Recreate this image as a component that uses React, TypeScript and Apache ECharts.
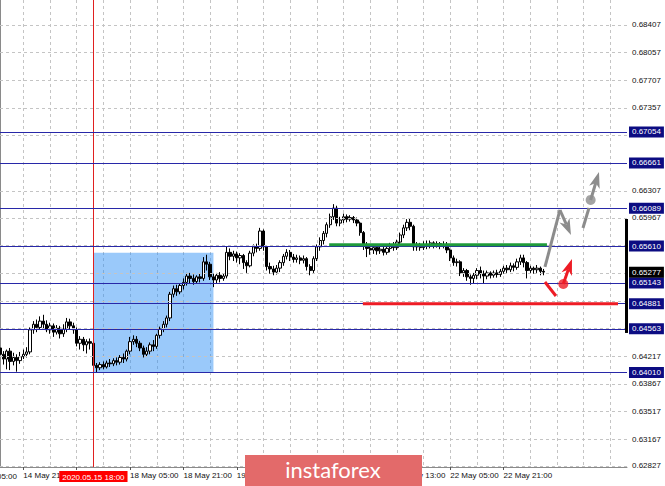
import React, { useEffect, useRef } from "react";
import * as echarts from "echarts";

// ---------- data ----------
const SLOT_COUNT = 189; // hourly slots incl. chart shift area
const START_UTC = Date.UTC(2020, 4, 14, 14); // first visible H1 bar: 14 May 14:00
const MONTHS = ["Jan", "Feb", "Mar", "Apr", "May", "Jun", "Jul", "Aug", "Sep", "Oct", "Nov", "Dec"];

// H1 candles: [open, close, low, high]
const candles: number[][] = [
  [0.6432, 0.6424, 0.6419, 0.6436], [0.6424, 0.6418, 0.6411, 0.6428], [0.6418, 0.6428, 0.6405, 0.643], [0.6428, 0.6415, 0.6404, 0.6432],
  [0.6415, 0.642, 0.641, 0.6426], [0.642, 0.6416, 0.6402, 0.6424], [0.6416, 0.6421, 0.6412, 0.6427], [0.6421, 0.6424, 0.6418, 0.643],
  [0.6424, 0.6427, 0.642, 0.6433], [0.6427, 0.6455, 0.6424, 0.6458], [0.6455, 0.6462, 0.645, 0.6466], [0.6462, 0.6458, 0.6452, 0.6468],
  [0.6458, 0.6466, 0.6455, 0.6472], [0.6466, 0.6462, 0.6456, 0.6474], [0.6462, 0.6455, 0.6452, 0.6467], [0.6455, 0.646, 0.645, 0.6464],
  [0.646, 0.6452, 0.6446, 0.6463], [0.6452, 0.6457, 0.6449, 0.6461], [0.6457, 0.645, 0.6444, 0.646], [0.645, 0.6456, 0.6446, 0.6462],
  [0.6456, 0.6465, 0.6452, 0.647], [0.6465, 0.646, 0.6455, 0.6469], [0.646, 0.6455, 0.645, 0.6464], [0.6455, 0.6438, 0.6434, 0.6458],
  [0.6438, 0.6443, 0.643, 0.6447], [0.6443, 0.6436, 0.6428, 0.6446], [0.6436, 0.644, 0.6425, 0.6443], [0.644, 0.6438, 0.643, 0.6444],
  [0.6438, 0.641, 0.6402, 0.6442], [0.641, 0.6407, 0.6401, 0.6413], [0.6407, 0.6411, 0.6404, 0.6414], [0.6411, 0.6408, 0.6405, 0.6415],
  [0.6408, 0.6413, 0.6406, 0.6416], [0.6413, 0.6412, 0.6408, 0.6418], [0.6412, 0.6416, 0.6409, 0.6419], [0.6416, 0.6414, 0.641, 0.642],
  [0.6414, 0.642, 0.6411, 0.6423], [0.642, 0.6418, 0.6413, 0.6425], [0.6418, 0.6428, 0.6415, 0.643], [0.6428, 0.644, 0.6424, 0.6446],
  [0.644, 0.6443, 0.6436, 0.6448], [0.6443, 0.6438, 0.6433, 0.6447], [0.6438, 0.6432, 0.6428, 0.6441], [0.6432, 0.6424, 0.642, 0.6435],
  [0.6424, 0.6428, 0.6421, 0.6433], [0.6428, 0.6436, 0.6424, 0.6439], [0.6436, 0.6434, 0.6428, 0.6442], [0.6434, 0.6448, 0.6431, 0.645],
  [0.6448, 0.6456, 0.6444, 0.6459], [0.6456, 0.6462, 0.6452, 0.6466], [0.6462, 0.647, 0.6458, 0.6473], [0.647, 0.65, 0.6466, 0.6503],
  [0.65, 0.6507, 0.6496, 0.6511], [0.6507, 0.6503, 0.6498, 0.6512], [0.6503, 0.6511, 0.65, 0.6514], [0.6511, 0.6515, 0.6506, 0.652],
  [0.6515, 0.6523, 0.6511, 0.6527], [0.6523, 0.652, 0.6514, 0.6527], [0.652, 0.6516, 0.6512, 0.6525], [0.6516, 0.6522, 0.6513, 0.6524],
  [0.6522, 0.652, 0.6515, 0.6526], [0.652, 0.6541, 0.6517, 0.6547], [0.6541, 0.6538, 0.653, 0.655], [0.6538, 0.6522, 0.6518, 0.6541],
  [0.6522, 0.6518, 0.6509, 0.6526], [0.6518, 0.6524, 0.6514, 0.6527], [0.6524, 0.652, 0.6515, 0.6528], [0.652, 0.6523, 0.6517, 0.6526],
  [0.6523, 0.6553, 0.652, 0.656], [0.6553, 0.6548, 0.6543, 0.6558], [0.6548, 0.6551, 0.6542, 0.6555], [0.6551, 0.6546, 0.654, 0.6554],
  [0.6546, 0.6549, 0.6538, 0.6552], [0.6549, 0.654, 0.6532, 0.6551], [0.654, 0.6536, 0.6527, 0.6543], [0.6536, 0.6552, 0.6534, 0.6555],
  [0.6552, 0.656, 0.6548, 0.6563], [0.656, 0.6558, 0.6553, 0.6564], [0.6558, 0.658, 0.6555, 0.6584], [0.658, 0.656, 0.6555, 0.6582],
  [0.656, 0.6535, 0.653, 0.6562], [0.6535, 0.6532, 0.6526, 0.654], [0.6532, 0.6528, 0.6524, 0.6536], [0.6528, 0.6533, 0.6525, 0.6537],
  [0.6533, 0.654, 0.6528, 0.6543], [0.654, 0.6548, 0.6536, 0.6551], [0.6548, 0.6553, 0.6544, 0.6557], [0.6553, 0.6547, 0.6542, 0.6556],
  [0.6547, 0.6544, 0.654, 0.6551], [0.6544, 0.6546, 0.654, 0.655], [0.6546, 0.6543, 0.6538, 0.6549], [0.6543, 0.6545, 0.6539, 0.6549],
  [0.6545, 0.6535, 0.653, 0.6547], [0.6535, 0.653, 0.6524, 0.6538], [0.653, 0.6545, 0.6527, 0.6548], [0.6545, 0.656, 0.6542, 0.6563],
  [0.656, 0.6568, 0.6555, 0.6572], [0.6568, 0.6577, 0.6563, 0.658], [0.6577, 0.6588, 0.6572, 0.6591], [0.6588, 0.6598, 0.6584, 0.6602],
  [0.6598, 0.6609, 0.6594, 0.6614], [0.6609, 0.659, 0.6586, 0.6612], [0.659, 0.6594, 0.6586, 0.6598], [0.6594, 0.6598, 0.659, 0.6602],
  [0.6598, 0.6595, 0.6591, 0.6601], [0.6595, 0.6597, 0.6592, 0.66], [0.6597, 0.6594, 0.659, 0.6599], [0.6594, 0.659, 0.6586, 0.6597],
  [0.659, 0.6578, 0.6574, 0.6592], [0.6578, 0.6562, 0.6556, 0.658], [0.6562, 0.6558, 0.6547, 0.6566], [0.6558, 0.6556, 0.655, 0.6562],
  [0.6556, 0.6559, 0.6551, 0.6563], [0.6559, 0.6555, 0.655, 0.6561], [0.6555, 0.6557, 0.6551, 0.6561], [0.6557, 0.6553, 0.6549, 0.656],
  [0.6553, 0.6558, 0.655, 0.6562], [0.6558, 0.6561, 0.6553, 0.6565], [0.6561, 0.6559, 0.6555, 0.6566], [0.6559, 0.6566, 0.6556, 0.6569],
  [0.6566, 0.6575, 0.6562, 0.6578], [0.6575, 0.6584, 0.6571, 0.6588], [0.6584, 0.6591, 0.658, 0.6595], [0.6591, 0.6586, 0.6581, 0.6596],
  [0.6586, 0.656, 0.6555, 0.6588], [0.656, 0.6562, 0.6555, 0.6566], [0.6562, 0.6559, 0.6555, 0.6565], [0.6559, 0.6563, 0.6556, 0.6567],
  [0.6563, 0.6561, 0.6557, 0.6568], [0.6561, 0.6565, 0.6558, 0.6568], [0.6565, 0.6562, 0.6558, 0.6567], [0.6562, 0.6564, 0.6559, 0.6567],
  [0.6564, 0.6561, 0.6557, 0.6566], [0.6561, 0.6563, 0.6558, 0.6567], [0.6563, 0.6556, 0.6552, 0.6566], [0.6556, 0.6546, 0.6542, 0.6558],
  [0.6546, 0.654, 0.6536, 0.6549], [0.654, 0.6541, 0.6535, 0.6545], [0.6541, 0.6527, 0.6523, 0.6543], [0.6527, 0.653, 0.6522, 0.6533],
  [0.653, 0.6522, 0.6517, 0.6532], [0.6522, 0.652, 0.6512, 0.6525], [0.652, 0.6524, 0.6513, 0.6527], [0.6524, 0.653, 0.6519, 0.6533],
  [0.653, 0.6526, 0.652, 0.6535], [0.6526, 0.6523, 0.6513, 0.653], [0.6523, 0.6527, 0.6519, 0.653], [0.6527, 0.6524, 0.652, 0.6529],
  [0.6524, 0.6527, 0.6521, 0.653], [0.6527, 0.6525, 0.6521, 0.6531], [0.6525, 0.6529, 0.6522, 0.6532], [0.6529, 0.6533, 0.6526, 0.6536],
  [0.6533, 0.6531, 0.6527, 0.6537], [0.6531, 0.6536, 0.6528, 0.654], [0.6536, 0.6534, 0.6529, 0.6539], [0.6534, 0.6541, 0.6531, 0.6545],
  [0.6541, 0.6546, 0.6537, 0.655], [0.6546, 0.654, 0.6534, 0.655], [0.654, 0.653, 0.652, 0.6542], [0.653, 0.6533, 0.6527, 0.6536],
  [0.6533, 0.6531, 0.6526, 0.6535], [0.6531, 0.6533, 0.6527, 0.6537], [0.6533, 0.6529, 0.6524, 0.6535], [0.6529, 0.6528, 0.6524, 0.6532],
];

// price scale grid (right axis)
const gridPrices = [0.68407, 0.68057, 0.67707, 0.67357, 0.67007, 0.66657, 0.66307, 0.65967, 0.65617, 0.65267, 0.64917, 0.64567, 0.64217, 0.63867, 0.63517, 0.63167, 0.62827];
const gridLabelHidden = [0.67007, 0.66657, 0.65617, 0.65267, 0.64917, 0.64567];
const yRange = [0.62814, 0.68723];

// horizontal level lines (navy) and current price
const levelPrices = [0.67054, 0.66661, 0.66089, 0.6561, 0.65143, 0.64881, 0.64563, 0.6401];
const currentPrice = 0.65277;
const rangeBar = [0.65952, 0.6451];

// annotations in (bar index, price)
const markerBar = 28;
const markerText = "2020.05.15 18:00";
const boxCorners = [[28, 0.65526], [64, 0.6401]];
const greenLine = [[98.7, 0.65625], [164, 0.65625]];
const redLine = [[108.8, 0.64881], [185.3, 0.64881]];
const greyUp1 = [[163.4, 0.65345], [167.9, 0.66066]];
const greyDownArrow = [[167.9, 0.66066], [171.2, 0.6575]];
const greyStem2 = [[174.8, 0.65838], [176.6, 0.66091]];
const greyUpArrow = [[177.1, 0.66193], [179.6, 0.66547]];
const redStem = [[163.4, 0.65155], [166.7, 0.64978]];
const redUpArrow = [[168.9, 0.6513], [171.5, 0.65446]];
const greyDot = [177.1, 0.66193];
const redDot = [168.9, 0.6513];

const FONT = "Liberation Sans";
const NAVY = "#0c0c82";
const NAVY_LINE = "#2828a8";
const GREY_ARROW = "#8c8c8c";
const RED = "#ee1c25";
const GREEN = "#1f9b3b";
const ANN_COLORS = [GREY_ARROW, RED, GREEN];

function buildTimes(n: number): Date[] {
  const out: Date[] = [];
  let t = START_UTC;
  while (out.length < n) {
    const d = new Date(t);
    const day = d.getUTCDay();
    if (day !== 0 && day !== 6) out.push(d);
    t += 3600000;
  }
  return out;
}
const pad = (v: number) => (v < 10 ? "0" + v : "" + v);
const times = buildTimes(SLOT_COUNT);
const categories = times.map((d) => `${d.getUTCDate()} ${MONTHS[d.getUTCMonth()]} ${pad(d.getUTCHours())}:00`);

const isTimeTick = (idx: number) => idx % 16 === 7 && idx < candles.length;
// labels hidden under the red time marker and the watermark banner
const hiddenTimeLabels = [23, 87, 103];
const showTimeLabel = (idx: number) => isTimeTick(idx) && hiddenTimeLabels.indexOf(idx) < 0;

// segment rows: [x1, p1, x2, p2, arrowHead, colourIndex]
const seg = (pts: number[][], head: number, colour: number) => [pts[0][0], pts[0][1], pts[1][0], pts[1][1], head, colour];
const annotationRows = [
  seg(greenLine, 0, 2),
  seg(redLine, 0, 1),
  seg(greyUp1, 0, 0),
  seg(greyDownArrow, 1, 0),
  seg(greyStem2, 0, 0),
  seg(greyUpArrow, 1, 0),
  seg(redStem, 0, 1),
  seg(redUpArrow, 1, 1),
];

function renderSegment(params: any, api: any) {
  const a = api.coord([api.value(0), api.value(1)]);
  const b = api.coord([api.value(2), api.value(3)]);
  const head = api.value(4) === 1;
  const color = ANN_COLORS[api.value(5)];
  const children: any[] = [];
  let end = b;
  if (head) {
    const dx = b[0] - a[0];
    const dy = b[1] - a[1];
    const len = Math.hypot(dx, dy) || 1;
    const ux = dx / len;
    const uy = dy / len;
    const px = -uy;
    const py = ux;
    const L = 16;
    const W = 5.5;
    const base = [b[0] - ux * L, b[1] - uy * L];
    const notch = [b[0] - ux * L * 0.72, b[1] - uy * L * 0.72];
    children.push({
      type: "polygon",
      shape: {
        points: [
          [b[0], b[1]],
          [base[0] + px * W, base[1] + py * W],
          notch,
          [base[0] - px * W, base[1] - py * W],
        ],
      },
      style: { fill: color },
    });
    end = notch;
  }
  children.unshift({
    type: "line",
    shape: { x1: a[0], y1: a[1], x2: end[0], y2: end[1] },
    style: { stroke: color, lineWidth: 3 },
  });
  return { type: "group", children };
}

function buildOption(): any {
  return {
    animation: false,
    backgroundColor: "#ffffff",
    grid: { left: 0, right: 38, top: 0, bottom: 19, containLabel: false },
    xAxis: [
      {
        type: "category",
        data: categories,
        boundaryGap: false,
        axisLine: { show: true, lineStyle: { color: "#8a8a8a", width: 1 } },
        axisTick: { show: true, interval: (i: number) => isTimeTick(i), length: 3, lineStyle: { color: "#555" } },
        axisLabel: {
          interval: (i: number) => showTimeLabel(i),
          align: "left",
          margin: 4,
          fontSize: 8,
          fontFamily: FONT,
          color: "#111",
        },
        splitLine: { show: true, interval: (i: number) => i % 8 === 7, lineStyle: { color: "#c4c4c4", type: [3, 3], width: 1 } },
      },
      { type: "value", min: 0, max: SLOT_COUNT - 1, show: false },
    ],
    yAxis: {
      type: "value",
      position: "right",
      min: yRange[0],
      max: yRange[1],
      scale: true,
      axisLine: { show: true, lineStyle: { color: "#8a8a8a", width: 1 } },
      axisTick: { show: false },
      axisLabel: { show: false },
      splitLine: { show: false },
    },
    graphic: [
      {
        type: "text",
        x: 17,
        y: 476,
        style: { text: "05:00", align: "right", verticalAlign: "middle", fontSize: 8, fontFamily: FONT, fill: "#111" },
      },
      { type: "rect", x: 245, y: 455, shape: { width: 177, height: 31 }, style: { fill: "#e36a6a" }, z: 100 },
      {
        type: "text",
        x: 333,
        y: 469,
        z: 101,
        style: { text: "instaforex", align: "center", verticalAlign: "middle", fontSize: 22, fontFamily: "Lato", fill: "#ffffff" },
      },
    ],
    series: [
      // price grid lines + labels
      {
        type: "line",
        xAxisIndex: 1,
        data: [],
        z: 1,
        silent: true,
        markLine: {
          silent: true,
          precision: 5,
          symbol: ["none", "none"],
          lineStyle: { color: "#c4c4c4", type: [3, 3], width: 1 },
          label: {
            position: "end",
            distance: 5,
            fontSize: 8,
            fontFamily: FONT,
            color: "#111",
            formatter: (p: any) => Number(p.value).toFixed(5),
          },
          data: gridPrices.map((v) => ({ yAxis: v, label: { show: gridLabelHidden.indexOf(v) < 0 } })),
        },
      },
      // blue box + vertical time marker
      {
        type: "line",
        xAxisIndex: 1,
        data: [],
        z: 2,
        silent: true,
        markArea: {
          silent: true,
          itemStyle: { color: "rgba(40,140,245,0.47)" },
          data: [[{ coord: boxCorners[0] }, { coord: boxCorners[1] }]],
        },
        markLine: {
          silent: true,
          precision: 5,
          symbol: ["none", "none"],
          lineStyle: { color: "#e02020", width: 1, type: "solid", opacity: 1 },
          label: {
            position: "start",
            distance: 4,
            formatter: markerText,
            backgroundColor: "#ff0000",
            color: "#ffffff",
            fontSize: 8,
            fontFamily: FONT,
            padding: [2, 3, 1, 3],
          },
          data: [{ xAxis: markerBar, lineStyle: { color: "#e02020", width: 1, type: "solid" } }],
        },
      },
      // candles
      {
        type: "candlestick",
        xAxisIndex: 0,
        z: 3,
        barWidth: 2.8,
        data: candles,
        itemStyle: {
          color: "#ffffff",
          color0: "#000000",
          borderColor: "#000000",
          borderColor0: "#000000",
          borderWidth: 1,
        },
      },
      // level lines with price boxes
      {
        type: "line",
        xAxisIndex: 1,
        data: [],
        z: 4,
        silent: true,
        markLine: {
          silent: true,
          precision: 5,
          symbol: ["none", "none"],
          lineStyle: { color: NAVY_LINE, width: 1, type: "solid" },
          label: {
            position: "end",
            distance: 2,
            fontSize: 8,
            fontFamily: FONT,
            color: "#ffffff",
            backgroundColor: NAVY,
            padding: [2, 3, 1, 3],
            formatter: (p: any) => Number(p.value).toFixed(5),
          },
          data: [
            ...levelPrices.map((v) => ({ yAxis: v })),
            {
              yAxis: currentPrice,
              lineStyle: { color: "rgba(0,0,0,0)", width: 0 },
              label: { show: true, backgroundColor: "#000000", color: "#ffffff", opacity: 1 },
            },
          ],
        },
      },
      // trend lines and forecast arrows
      {
        type: "custom",
        xAxisIndex: 1,
        z: 5,
        silent: true,
        clip: false,
        data: annotationRows,
        encode: { x: [0, 2], y: [1, 3] },
        renderItem: renderSegment,
      },
      // dots
      {
        type: "scatter",
        xAxisIndex: 1,
        z: 6,
        silent: true,
        symbol: "circle",
        symbolSize: 10,
        data: [
          { value: greyDot, itemStyle: { color: GREY_ARROW } },
          { value: redDot, itemStyle: { color: RED } },
        ],
      },
      // black range bar on the price scale
      {
        type: "custom",
        xAxisIndex: 1,
        z: 7,
        silent: true,
        clip: false,
        data: [[SLOT_COUNT - 1, rangeBar[0], rangeBar[1]]],
        encode: { x: 0, y: [1, 2] },
        renderItem: (params: any, api: any) => {
          const a = api.coord([api.value(0), api.value(1)]);
          const b = api.coord([api.value(0), api.value(2)]);
          return {
            type: "rect",
            shape: { x: a[0] - 2, y: a[1], width: 3, height: b[1] - a[1] },
            style: { fill: "#000000" },
          };
        },
      },
    ],
  };
}

export default function App() {
  const ref = useRef<HTMLDivElement>(null);
  useEffect(() => {
    if (!ref.current) return;
    const chart = echarts.init(ref.current, null, { renderer: "svg" });
    chart.setOption(buildOption());
    return () => chart.dispose();
  }, []);
  return (
    <div
      ref={ref}
      style={{ position: "fixed", left: 0, top: 0, width: 665, height: 486, background: "#ffffff" }}
    />
  );
}
